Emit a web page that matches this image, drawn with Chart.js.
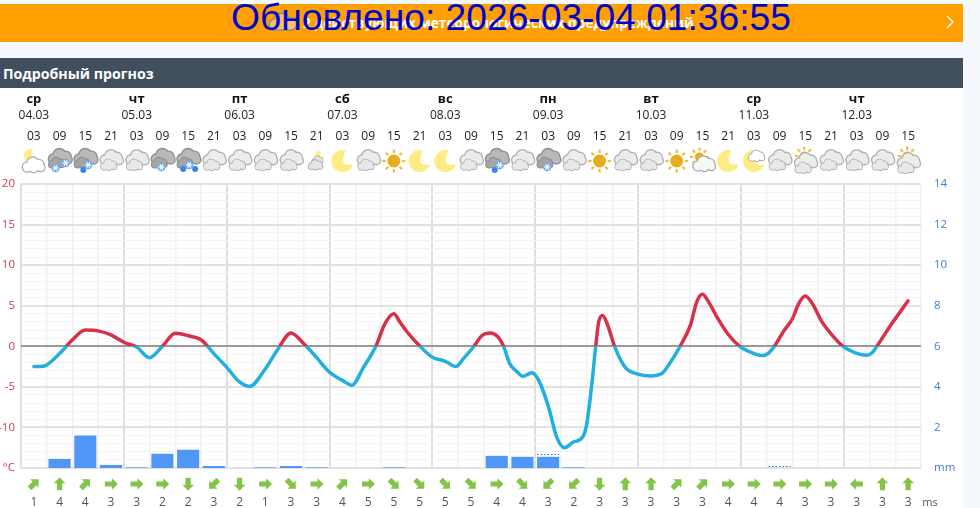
<!DOCTYPE html>
<html lang="ru">
<head>
<meta charset="utf-8">
<title>Подробный прогноз</title>
<script src="https://cdn.jsdelivr.net/npm/chart.js@4"></script>
<style>
  html, body { margin: 0; padding: 0; width: 980px; height: 508px; overflow: hidden; background: #f5f8fc; }
  .alert { position: absolute; left: 0; top: 4px; width: 963px; height: 38px; background: #ffa000; }
  .alert span { position: absolute; left: 303px; top: 9px; color: #fff; font: 700 13.7px "Open Sans", sans-serif; white-space: nowrap; }
  .alert svg { position: absolute; }
  .updated { position: absolute; left: 231px; top: -4px; color: #0000cd; font: 37.2px "Liberation Sans", Arial, sans-serif; white-space: nowrap; }
  .head { position: absolute; left: 0; top: 58px; width: 963px; height: 30px; background: #414e5e; color: #fff; font: 700 14.2px/31px "Open Sans", sans-serif; text-indent: 3px; }
  canvas { position: absolute; left: 0; top: 88px; background: #fff; }
</style>
</head>
<body>
<div class="alert">
  <svg style="left:268px;top:7px" width="30" height="22"><path d="M4 19 a6 6 0 0 1 2 -11 a8 8 0 0 1 15 -1 a6 6 0 0 1 3 12 z" fill="#f7c266" stroke="#8a8f86" stroke-width="1.4"/></svg>
  <span>2 действующих метеорологических предупреждений</span>
  <svg style="left:945px;top:11px" width="10" height="14"><path d="M2 1 L8 7 L2 13" fill="none" stroke="#fff" stroke-width="1.4"/></svg>
</div>
<div class="updated">Обновлено: 2026-03-04 01:36:55</div>
<div class="head">Подробный прогноз</div>
<canvas id="forecast" width="963" height="420"></canvas>
<script>
// day header rows
const dayNames = ['ср', 'чт', 'пт', 'сб', 'вс', 'пн', 'вт', 'ср', 'чт'];
const dayDates = ['04.03', '05.03', '06.03', '07.03', '08.03', '09.03', '10.03', '11.03', '12.03'];
const hourLabels = ['03','09','15','21','03','09','15','21','03','09','15','21','03','09','15','21','03','09','15','21','03','09','15','21','03','09','15','21','03','09','15','21','03','09','15'];

// sky icon for each forecast step
const skyCodes = ['moonCloud','snowTwo','snowDrop','cloud','cloud','snowOne','snowDrops','cloud','cloud','cloud','cloud','smallMoon','moon','cloud','sun','moon','moon','cloud','snowDrop','cloud','snowOne','cloud','sun','cloud','cloud','sun','sunCloud','moon','moonBig','cloud','sunClouds','cloud','cloud','cloud','sunClouds'];

// temperature: hours after the first step, degrees
const tempHours = [0,1.5,3,6,7.6,9,12,15,18,21,24,27,30,33,36,39,42,45,48,50.3,54,57,60,63,66,69,72,74.2,76.9,79.8,81.9,84,85.4,87.2,90.1,93,96,98.5,100.2,102.7,104.5,106.5,108.4,109.6,111.1,112.7,114.1,116.2,117.8,120.1,122,123.8,125.9,128.1,129,130.2,131.1,131.8,132.7,133.8,135.5,138,140.7,143.8,146.5,148.5,150.8,153.2,154.7,156,157.4,159.4,161.9,164.7,167.6,170.1,171.5,172.8,175,177,178.5,180,181.6,183.9,186.3,188.8,191.7,194.4,195.6,196.7,200.2,204];
const tempValues = [-2.5,-2.5,-2.3,-0.9,0,0.8,2,1.9,1.4,0.5,-0.1,-1.4,0,1.6,1.3,0.8,-0.9,-2.6,-4.4,-4.95,-2.8,-0.3,1.65,0.3,-1.4,-3.2,-4.2,-4.8,-2.6,0,2.75,4,3,1.7,0,-1.35,-1.85,-2.5,-1.55,0,1.3,1.65,1.1,0,-2.2,-3.1,-3.7,-3.25,-4.2,-7.5,-11.2,-12.5,-11.8,-11.15,-9.6,-4.65,0,3,3.8,2.75,0,-2.6,-3.4,-3.65,-3.35,-2,0,2.6,5.5,6.4,5.5,3.6,1.55,0,-0.8,-1.15,-0.8,0,1.9,3.4,5.3,6.2,5.3,3,1.35,0,-0.8,-1.1,-0.8,0,2.8,5.6];

// precipitation, mm
const precipMm = [0,0.45,1.6,0.15,0.03,0.7,0.9,0.1,0,0.03,0.1,0.03,0,0,0.03,0,0,0,0.6,0.55,0.55,0.03,0,0,0,0,0,0,0,0,0,0,0,0,0];
const dottedMm = [null,null,null,null,null,null,null,null,null,null,null,null,null,null,null,null,null,null,null,null,0.66,null,null,null,null,null,null,null,null,0.05,null,null,null,null,null];

// wind: arrow bearing in degrees, speed in m/s
const windDirs = [45,0,45,90,90,90,180,225,180,90,135,90,45,90,135,135,135,135,90,135,225,225,180,0,0,45,45,90,90,90,90,90,270,0,0];
const windSpeeds = [1,4,4,3,3,2,2,3,2,1,3,3,4,5,5,5,5,5,4,4,3,2,3,3,3,3,3,4,4,4,3,3,3,3,3];

const FONT = '"Open Sans", sans-serif';

// cloud outline: stroke all the puffs first, then fill them so only the outer edge stays
function cloud(c, x, y, s, fill, line) {
  const puffs = [[-6.5, 2, 4.5], [-1, -2, 5.5], [5, -0.5, 4.5], [7, 2.5, 3.5], [0, 3, 4]];
  c.save();
  c.translate(x, y);
  c.scale(s, s);
  c.strokeStyle = line;
  c.lineWidth = 2.6;
  puffs.forEach(p => { c.beginPath(); c.arc(p[0], p[1], p[2], 0, Math.PI * 2); c.stroke(); });
  c.fillStyle = fill;
  puffs.forEach(p => { c.beginPath(); c.arc(p[0], p[1], p[2], 0, Math.PI * 2); c.fill(); });
  c.restore();
}

function moon(c, x, y, r) {
  c.fillStyle = '#fdec83';
  c.beginPath();
  c.arc(x, y, r, 0.1 * Math.PI, 1.6 * Math.PI, false);
  c.quadraticCurveTo(x - r * 0.45, y + r * 0.55, x + r * 0.95, y + r * 0.3);
  c.closePath();
  c.fill();
}

function sun(c, x, y, r) {
  c.strokeStyle = '#edc044';
  c.lineWidth = 2.2;
  for (let a = 0; a < 8; a++) {
    const t = a * Math.PI / 4;
    c.beginPath();
    c.moveTo(x + Math.cos(t) * (r + 1.5), y + Math.sin(t) * (r + 1.5));
    c.lineTo(x + Math.cos(t) * (r + 5), y + Math.sin(t) * (r + 5));
    c.stroke();
  }
  c.fillStyle = '#e7ad1f';
  c.beginPath();
  c.arc(x, y, r, 0, Math.PI * 2);
  c.fill();
}

function flake(c, x, y) {
  c.fillStyle = '#6ea8f0';
  c.beginPath();
  c.arc(x, y, 4.2, 0, Math.PI * 2);
  c.fill();
  c.strokeStyle = '#fff';
  c.lineWidth = 1.2;
  for (let a = 0; a < 3; a++) {
    const t = a * Math.PI / 3;
    c.beginPath();
    c.moveTo(x - Math.cos(t) * 3.2, y - Math.sin(t) * 3.2);
    c.lineTo(x + Math.cos(t) * 3.2, y + Math.sin(t) * 3.2);
    c.stroke();
  }
}

function drop(c, x, y) {
  c.fillStyle = '#3a86ee';
  c.beginPath();
  c.arc(x, y, 3, 0, Math.PI * 2);
  c.fill();
}

function overcast(c, x, y) {
  cloud(c, x + 1, y - 3, 1.02, '#ececec', '#b0b0b0');
  cloud(c, x - 2, y + 4, 0.72, '#e8e8e8', '#b0b0b0');
}

function darkCloud(c, x, y) {
  cloud(c, x + 1, y - 4, 1.05, '#b9b9b9', '#8f8f8f');
  cloud(c, x - 3, y + 2, 0.7, '#a5a5a5', '#8a8a8a');
}

function drawSky(c, code, x, y) {
  if (code === 'cloud') overcast(c, x, y);
  if (code === 'moon') moon(c, x, y, 11);
  if (code === 'sun') sun(c, x, y, 6.5);
  if (code === 'moonCloud') { moon(c, x - 3, y - 5, 7); cloud(c, x, y + 4, 1, '#fff', '#a9a9a9'); }
  if (code === 'smallMoon') { moon(c, x + 3, y - 5, 5); cloud(c, x + 1, y - 1, 0.5, '#e4e4e4', '#a9a9a9'); cloud(c, x - 1, y + 4, 0.65, '#e4e4e4', '#a9a9a9'); }
  if (code === 'moonBig') { moon(c, x, y, 11); cloud(c, x + 3, y - 5, 0.72, '#fff', '#a9a9a9'); }
  if (code === 'sunCloud') { sun(c, x - 3, y - 4, 4.5); cloud(c, x + 2, y + 3, 1, '#f7f7f7', '#a9a9a9'); }
  if (code === 'sunClouds') { sun(c, x - 1, y - 5, 4.5); overcast(c, x, y + 3); }
  if (code === 'snowTwo') { darkCloud(c, x, y); flake(c, x - 4, y + 7); flake(c, x + 6, y + 2); }
  if (code === 'snowOne') { darkCloud(c, x, y); flake(c, x - 1, y + 6); }
  if (code === 'snowDrop') { darkCloud(c, x, y); drop(c, x - 2, y + 9); flake(c, x + 3, y + 4); }
  if (code === 'snowDrops') { darkCloud(c, x, y); drop(c, x - 5, y + 8); flake(c, x + 1, y + 4); drop(c, x + 7, y + 8); }
}

function windArrow(c, x, y, deg) {
  c.save();
  c.translate(x, y);
  c.rotate(deg * Math.PI / 180);
  c.fillStyle = '#82c447';
  c.beginPath();
  c.moveTo(0, -6.8);
  c.lineTo(5.8, -0.8);
  c.lineTo(2.6, -0.8);
  c.lineTo(2.6, 6.2);
  c.lineTo(-2.6, 6.2);
  c.lineTo(-2.6, -0.8);
  c.lineTo(-5.8, -0.8);
  c.closePath();
  c.fill();
  c.restore();
}

// text rows, icons, wind arrows and the dotted precipitation caps
const forecastRows = {
  id: 'forecastRows',
  afterDatasetsDraw(chart) {
    const c = chart.ctx;
    const xs = chart.scales.x;
    const mm = chart.scales.yMm;
    const bars = chart.getDatasetMeta(1).data;
    c.save();
    c.strokeStyle = '#2f6fd6';
    c.lineWidth = 1.2;
    c.setLineDash([1.5, 2]);
    dottedMm.forEach((v, i) => {
      if (v === null) return;
      const py = Math.round(mm.getPixelForValue(v)) - 0.5;
      c.beginPath();
      c.moveTo(bars[i].x - bars[i].width / 2, py);
      c.lineTo(bars[i].x + bars[i].width / 2, py);
      c.stroke();
    });
    c.restore();

    c.save();
    c.textAlign = 'center';
    c.textBaseline = 'middle';
    dayNames.forEach((name, d) => {
      const px = xs.getPixelForValue(d * 4);
      c.fillStyle = '#111';
      c.font = '700 13px ' + FONT;
      c.fillText(name, px, 11);
      c.fillStyle = '#222';
      c.font = '12px ' + FONT;
      c.fillText(dayDates[d], px, 28);
    });
    hourLabels.forEach((h, i) => {
      const px = xs.getPixelForValue(i);
      c.fillStyle = '#222';
      c.font = '12px ' + FONT;
      c.fillText(h, px, 49);
      drawSky(c, skyCodes[i], px, 73);
      windArrow(c, px, 396, windDirs[i]);
      c.fillStyle = '#555';
      c.font = '12px ' + FONT;
      c.fillText(windSpeeds[i], px, 415);
    });
    c.fillStyle = '#555';
    c.font = '11px ' + FONT;
    c.fillText('ms', 930, 415);
    c.restore();
  }
};

new Chart(document.getElementById('forecast'), {
  data: {
    labels: hourLabels,
    datasets: [
      {
        type: 'line',
        data: tempHours.map((h, i) => ({ x: h, y: tempValues[i] })),
        xAxisID: 'xHours',
        yAxisID: 'y',
        order: 1,
        borderWidth: 3.5,
        pointRadius: 0,
        cubicInterpolationMode: 'monotone',
        borderCapStyle: 'round',
        // red above zero, blue below
        borderColor(ctx) {
          const chart = ctx.chart;
          if (!chart.chartArea) return '#21afe0';
          const top = chart.chartArea.top, bottom = chart.chartArea.bottom;
          const stop = (chart.scales.y.getPixelForValue(0) - top) / (bottom - top);
          const g = chart.ctx.createLinearGradient(0, top, 0, bottom);
          g.addColorStop(0, '#d8304a');
          g.addColorStop(stop, '#d8304a');
          g.addColorStop(stop, '#21afe0');
          g.addColorStop(1, '#21afe0');
          return g;
        }
      },
      {
        type: 'bar',
        data: precipMm,
        xAxisID: 'x',
        yAxisID: 'yMm',
        order: 2,
        grouped: false,  // the hidden hours axis would otherwise take half of each slot
        backgroundColor: '#5096f7',
        categoryPercentage: 1,
        barPercentage: 0.86
      }
    ]
  },
  plugins: [forecastRows],
  options: {
    responsive: false,
    animation: false,
    layout: { padding: { top: 96, bottom: 40 } },
    plugins: { legend: { display: false }, title: { display: false }, tooltip: { enabled: false } },
    scales: {
      x: {
        type: 'category',
        afterFit(scale) { scale.height = 0; },
        ticks: { display: false, autoSkip: false },
        border: { display: false },
        grid: {
          offset: true,
          drawTicks: false,
          color: ctx => (ctx.index % 4 === 0 ? '#dedede' : '#f2f2f2'),
          lineWidth: ctx => (ctx.index % 4 === 0 ? 2 : 1.5)
        }
      },
      xHours: { type: 'linear', display: false, min: -3, max: 207 },
      y: {
        position: 'left',
        min: -15,
        max: 20,
        afterFit(scale) { scale.width = 21; },
        border: { display: false },
        grid: {
          drawTicks: false,
          color(ctx) {
            const v = ctx.tick.value;
            if (v === 0) return '#999999';
            return v % 5 === 0 ? '#e2e2e2' : '#f4f4f4';
          },
          lineWidth: ctx => (ctx.tick.value % 5 === 0 ? 2 : 1)
        },
        ticks: {
          stepSize: 1,
          autoSkip: false,
          padding: 6,
          color: '#c9404f',
          font: { family: FONT, size: 11.5 },
          callback: v => (v === -15 ? '°C' : (v % 5 === 0 ? String(v) : ''))
        }
      },
      yMm: {
        position: 'right',
        min: 0,
        max: 14,
        afterFit(scale) { scale.width = 42; },
        border: { display: false },
        grid: { display: false, drawTicks: false },
        ticks: {
          stepSize: 2,
          padding: 13,
          color: '#3f7fd0',
          font: { family: FONT, size: 11.5 },
          callback: v => (v === 0 ? 'mm' : String(v))
        }
      }
    }
  }
});
</script>
</body>
</html>
